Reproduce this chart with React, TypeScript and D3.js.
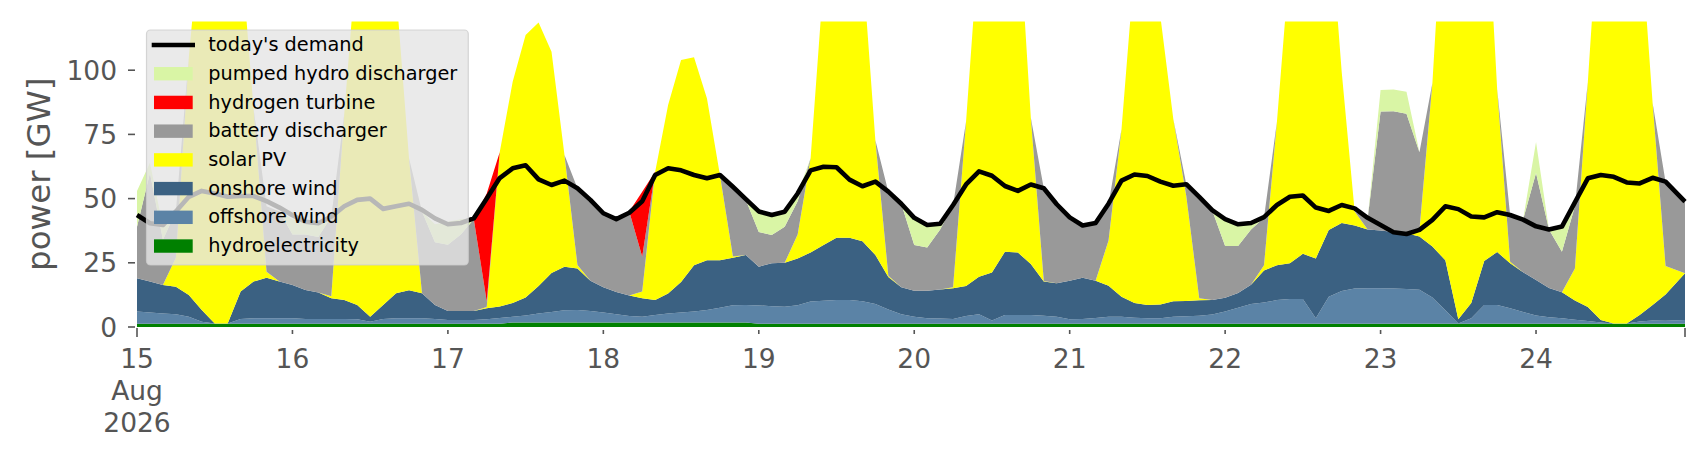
import { useEffect, useRef } from "react";
import * as d3 from "d3";

const WIDTH = 1706;
const HEIGHT = 460;
const X0 = 137;
const X1 = 1685;
const Y_BASE = 327;
const Y_TOP = 21.4;
const Y_MAX = 119;
const FONT = "DejaVu Sans, sans-serif";

// 2-hourly snapshots from 15 Aug 2026 00:00 to 24 Aug 23:00 (GW)
const HOURS = [...d3.range(0, 237, 2), 239];

const hydro = [
  1.3, 1.3, 1.3, 1.3, 1.3, 1.3, 1.3, 1.3, 1.3, 1.3, 1.3, 1.3,
  1.3, 1.3, 1.3, 1.3, 1.3, 1.3, 1.3, 1.3, 1.3, 1.3, 1.3, 1.3,
  1.3, 1.3, 1.3, 1.3, 1.3, 1.8, 1.8, 1.8, 1.8, 1.8, 1.8, 1.8,
  1.8, 1.8, 1.8, 1.8, 1.8, 1.8, 1.8, 1.8, 1.8, 1.8, 1.8, 1.8,
  1.3, 1.3, 1.3, 1.3, 1.3, 1.3, 1.3, 1.3, 1.3, 1.3, 1.3, 1.3,
  1.3, 1.3, 1.3, 1.3, 1.3, 1.3, 1.3, 1.3, 1.3, 1.3, 1.3, 1.3,
  1.3, 1.3, 1.3, 1.3, 1.3, 1.3, 1.3, 1.3, 1.3, 1.3, 1.3, 1.3,
  1.3, 1.3, 1.3, 1.3, 1.3, 1.3, 1.3, 1.3, 1.3, 1.3, 1.3, 1.3,
  1.3, 1.3, 1.3, 1.3, 1.3, 1.3, 1.3, 1.3, 1.3, 1.3, 1.3, 1.3,
  1.3, 1.3, 1.3, 1.3, 1.3, 1.3, 1.3, 1.3, 1.3, 1.3, 1.3, 1.3,
];

const offshore = [
  4.7, 4.3, 4.0, 3.7, 2.7, 0.7, 0.1, 0.1, 1.8, 2.1, 2.1, 2.1,
  2.1, 1.8, 1.8, 1.8, 1.8, 1.7, 0.7, 1.8, 2.1, 2.1, 2.1, 1.8,
  1.4, 1.4, 1.4, 1.7, 2.2, 2.2, 2.7, 3.5, 4.0, 4.7, 4.8, 4.4,
  3.8, 3.2, 2.5, 2.2, 2.9, 3.5, 3.8, 4.2, 4.8, 5.7, 6.7, 6.8,
  7.1, 6.8, 6.6, 7.2, 8.6, 8.9, 9.2, 9.2, 8.7, 7.7, 5.5, 3.7,
  2.7, 2.1, 2.0, 1.8, 3.0, 3.7, 1.2, 3.4, 3.4, 3.4, 3.1, 2.7,
  1.7, 1.8, 2.2, 2.7, 2.7, 2.3, 2.1, 2.1, 2.7, 2.9, 3.1, 3.6,
  4.7, 6.2, 7.7, 8.2, 9.2, 9.6, 9.6, 2.1, 10.5, 12.7, 13.7, 13.8,
  13.8, 13.7, 13.5, 13.2, 10.2, 5.2, 0.1, 2.1, 7.3, 7.3, 6.0, 4.5,
  3.2, 2.5, 2.1, 1.5, 1.0, 0.5, 0.1, 0.1, 0.8, 1.2, 1.1, 1.4,
];

const onshore = [
  13, 12.1, 11.1, 10.7, 8.5, 4.6, 0, 0, 10.7, 14.3, 15.8, 14.3,
  13, 11.3, 10.3, 8.1, 7.4, 5.6, 2, 5.5, 9.7, 10.9, 9.7, 5.5,
  3.5, 3.5, 3.5, 4.3, 4.5, 5.3, 7, 10.7, 15.2, 17, 16.2, 11.8,
  9.9, 8.6, 8, 7.2, 5.8, 7.7, 11.9, 18, 19.4, 18.5, 18.5, 19.4,
  15.1, 16.7, 17.1, 18.2, 19.1, 21.7, 24.3, 24.3, 23.4, 19, 12.7, 10.5,
  10.1, 10.7, 11.3, 12, 11.7, 14.6, 18.7, 24.6, 24.3, 19.8, 13.3, 13,
  15, 16.1, 14.5, 12.1, 7.8, 5.7, 5.2, 5.4, 6, 5.9, 6, 5.6,
  5.4, 5.7, 7.5, 12.5, 13.5, 13.9, 17.6, 23.3, 26, 26.5, 24.5, 22.9,
  22.5, 22, 21.7, 20.7, 19.8, 19.5, 1.6, 5.9, 17.1, 20.6, 17.5, 15.5,
  13.8, 11.4, 10.1, 7.5, 5.5, 0.9, 0, 0, 2.6, 6.1, 10.3, 18.2,
];

const solar = [
  0, 0, 0, 11.3, 92.5, 153.4, 173.6, 168.6, 134.2, 67.3, 2.3, 0,
  0, 0, 0, 0.8, 72.5, 138.4, 156, 146.4, 117.9, 51.4, 0, 0,
  0, 0, 0, 0.5, 60, 86.2, 102.2, 102.6, 86.2, 43.5, 1.3, 0,
  0, 0, 0, 2.6, 50, 73.4, 86.5, 81, 63, 33.2, 0.5, 0,
  0, 0, 0, 9.3, 36.7, 103.1, 115.2, 115.2, 108.6, 44.7, 0.5, 0,
  0, 0, 0, 0.4, 64, 131, 143.8, 135.7, 134, 57, 0.2, 0,
  0, 0, 0, 17.6, 65.2, 130.7, 141.4, 112.2, 71, 40.9, 0.8, 0,
  0, 0, 0, 2, 56, 118.2, 131.5, 138.3, 127.2, 58.8, 5.5, 0,
  0, 0, 0, 2.6, 63.7, 154, 187, 180.7, 159.3, 63.5, 0.6, 0,
  0, 0, 0, 12.5, 87.7, 169.3, 178.6, 178.6, 153.3, 78.6, 11.1, 0,
];

const battery = [
  20, 42.3, 17.6, 18, 0, 0, 0, 0, 0, 0, 25.5, 27.3,
  19.6, 21.6, 21.6, 31, 0, 0, 0, 0, 0, 0, 31.9, 24.4,
  25.8, 29.8, 35.8, 2.1, 0, 0, 0, 0, 0, 0, 29.9, 31.5,
  29, 28.4, 32.7, 13.6, 0, 0, 0, 0, 0, 0, 27, 21.5,
  13.5, 11, 14, 13, 0, 0, 0, 0, 0, 0, 32.7, 32.5,
  17.8, 16.9, 23.4, 32, 0, 0, 0, 0, 0, 0, 36.1, 30,
  24.7, 20.3, 22.5, 14.3, 0, 0, 0, 0, 0, 4.6, 39.5, 35,
  20.1, 18.3, 21.5, 18.5, 0, 0, 0, 0, 0, 0, 0, 4,
  46.3, 47, 46.5, 30.2, 0, 0, 0, 0, 0, 0, 18.2, 20.5,
  41.7, 22.8, 15.8, 24.2, 0, 0, 0, 0, 0, 0, 32.7, 27.9,
];

const hydrogen = [
  0, 0, 0, 0, 0, 0, 0, 0, 0, 0, 0, 0,
  0, 0, 0, 0, 0, 0, 0, 0, 0, 0, 0, 0,
  0, 0, 0, 42.1, 0, 0, 0, 0, 0, 0, 0, 0,
  0, 0, 0, 25.3, 0, 0, 0, 0, 0, 0, 0, 0,
  0, 0, 0, 0, 0, 0, 0, 0, 0, 0, 0, 0,
  0, 0, 0, 0, 0, 0, 0, 0, 0, 0, 0, 0,
  0, 0, 0, 0, 0, 0, 0, 0, 0, 0, 0, 0,
  0, 0, 0, 0, 0, 0, 0, 0, 0, 0, 0, 0,
  0, 0, 0, 0, 0, 0, 0, 0, 0, 0, 0, 0,
  0, 0, 0, 0, 0, 0, 0, 0, 0, 0, 0, 0,
];

const pumped = [
  14, 4, 5, 0, 0, 0, 0, 0, 0, 0, 0, 0,
  6, 5, 5.4, 0, 0, 0, 0, 0, 0, 0, 0, 7,
  9, 6, 0, 0, 0, 0, 0, 0, 0, 0, 0, 0,
  0, 0, 0, 0, 0, 0, 0, 0, 0, 0, 0, 0,
  7.5, 7.8, 5.9, 3, 0, 0, 0, 0, 0, 0, 0, 0,
  10.4, 8.7, 2.4, 0, 0, 0, 0, 0, 0, 0, 0, 0,
  0, 0, 0, 0, 0, 0, 0, 0, 0, 0, 0, 0,
  10, 8.5, 2, 0, 0, 0, 0, 0, 0, 0, 0, 0,
  8.4, 8.5, 8.6, 0, 0, 0, 0, 0, 0, 0, 0, 0,
  12, 0, 9.8, 0, 0, 0, 0, 0, 0, 0, 0, 0,
];

const demand = [
  43.6, 40.4, 39.7, 45, 50.7, 53, 52, 50.7, 51, 51, 49, 46.5,
  43.5, 41, 40.4, 43, 47, 49.5, 50, 46, 47, 48, 45.6, 42.3,
  40, 40.5, 42.3, 50, 58, 61.8, 63, 57.5, 55.3, 57, 54, 49.5,
  44.3, 42, 44.5, 49, 59.2, 61.8, 61, 59.2, 57.9, 59.2, 54.6, 49.8,
  45, 43.6, 44.9, 52, 61, 62.4, 62.2, 57.4, 54.8, 56.6, 52.7, 48,
  42.5, 39.7, 40.2, 47.5, 55.5, 60.6, 58.9, 54.9, 53, 55.5, 54, 47.8,
  42.7, 39.5, 40.5, 48, 57, 59.4, 58.8, 56.6, 55, 55.6, 50.7, 45.5,
  42, 40, 40.5, 42.8, 47.5, 50.7, 51.2, 46.5, 45.2, 47.5, 46.2, 42.5,
  39.7, 36.9, 36.2, 37.8, 41.7, 47, 45.9, 43, 42.7, 44.7, 43.6, 41.8,
  39.2, 38, 39.1, 48.5, 57.9, 59.2, 58.5, 56.3, 55.9, 58.1, 56.6, 48.8,
];

const Y_TICKS = [0, 25, 50, 75, 100];

// bottom to top of the stack
const KEYS = ["hydro", "offshore", "onshore", "solar", "battery", "hydrogen", "pumped"];
const SERIES: Record<string, number[]> = { hydro, offshore, onshore, solar, battery, hydrogen, pumped };
const COLORS: Record<string, string> = {
  hydro: "#008000",
  offshore: "#5b83a6",
  onshore: "#3b6182",
  solar: "#ffff00",
  battery: "#999999",
  hydrogen: "#ff0000",
  pumped: "#d9f5a5",
};
const LABELS: Record<string, string> = {
  hydro: "hydroelectricity",
  offshore: "offshore wind",
  onshore: "onshore wind",
  solar: "solar PV",
  battery: "battery discharger",
  hydrogen: "hydrogen turbine",
  pumped: "pumped hydro discharger",
};

type Row = { t: Date; [k: string]: number | Date };

export default function App() {
  const ref = useRef<SVGSVGElement>(null);

  useEffect(() => {
    const svg = d3.select(ref.current!);
    svg.selectAll("*").remove();

    const times = HOURS.map((h) => new Date(2026, 7, 15, h));
    const x = d3
      .scaleTime()
      .domain([times[0], times[times.length - 1]])
      .range([X0, X1]);
    const y = d3.scaleLinear().domain([0, Y_MAX]).range([Y_BASE, Y_TOP]);

    const rows: Row[] = times.map((t, i) => {
      const r: Row = { t };
      KEYS.forEach((k) => (r[k] = SERIES[k][i]));
      return r;
    });

    const stacked = d3.stack<Row>().keys(KEYS)(rows);

    svg
      .append("defs")
      .append("clipPath")
      .attr("id", "plotClip")
      .append("rect")
      .attr("x", X0)
      .attr("y", Y_TOP)
      .attr("width", X1 - X0)
      .attr("height", Y_BASE - Y_TOP);

    const area = d3
      .area<d3.SeriesPoint<Row>>()
      .x((d) => x(d.data.t as Date))
      .y0((d) => y(d[0]))
      .y1((d) => y(d[1]));

    svg
      .append("g")
      .attr("clip-path", "url(#plotClip)")
      .selectAll("path")
      .data(stacked)
      .join("path")
      .attr("fill", (s) => COLORS[s.key])
      .attr("d", (s) => area(s));

    const line = d3
      .line<number>()
      .x((_, i) => x(times[i]))
      .y((d) => y(d))
      .curve(d3.curveLinear);

    svg
      .append("path")
      .datum(demand)
      .attr("fill", "none")
      .attr("stroke", "#000")
      .attr("stroke-width", 4.6)
      .attr("stroke-linejoin", "round")
      .attr("d", line);

    // y axis
    const tickColor = "#555555";
    const yAxis = svg.append("g").attr("font-family", FONT);
    Y_TICKS.forEach((v) => {
      yAxis
        .append("line")
        .attr("x1", 128)
        .attr("x2", 135)
        .attr("y1", y(v))
        .attr("y2", y(v))
        .attr("stroke", tickColor)
        .attr("stroke-width", 1.6);
      yAxis
        .append("text")
        .attr("x", 117)
        .attr("y", y(v))
        .attr("dy", "0.36em")
        .attr("text-anchor", "end")
        .attr("font-size", 26.5)
        .attr("fill", tickColor)
        .text(v);
    });
    svg
      .append("text")
      .attr("transform", `translate(38,${(Y_TOP + Y_BASE) / 2}) rotate(-90)`)
      .attr("text-anchor", "middle")
      .attr("dy", "0.36em")
      .attr("font-family", FONT)
      .attr("font-size", 32.5)
      .attr("fill", tickColor)
      .text("power [GW]");

    // x axis
    const xAxis = svg.append("g").attr("font-family", FONT);
    const days = d3.timeDay.range(times[0], d3.timeDay.offset(times[0], 10));
    const fmt = d3.timeFormat("%-d");
    days.forEach((d, i) => {
      const px = x(d);
      xAxis
        .append("line")
        .attr("x1", px)
        .attr("x2", px)
        .attr("y1", i === 0 ? 328 : 330)
        .attr("y2", i === 0 ? 337 : 334)
        .attr("stroke", tickColor)
        .attr("stroke-width", 1.6);
      const lines = i === 0 ? [fmt(d), d3.timeFormat("%b")(d), d3.timeFormat("%Y")(d)] : [fmt(d)];
      lines.forEach((txt, j) => {
        xAxis
          .append("text")
          .attr("x", px)
          .attr("y", 368 + j * 32)
          .attr("text-anchor", "middle")
          .attr("font-size", 26.5)
          .attr("fill", tickColor)
          .text(txt);
      });
    });
    xAxis
      .append("line")
      .attr("x1", X1)
      .attr("x2", X1)
      .attr("y1", 328)
      .attr("y2", 337)
      .attr("stroke", tickColor)
      .attr("stroke-width", 1.6);

    // legend
    const lg = svg.append("g").attr("font-family", FONT);
    lg.append("rect")
      .attr("x", 146.5)
      .attr("y", 30)
      .attr("width", 321.8)
      .attr("height", 235)
      .attr("rx", 4)
      .attr("fill", "#e5e5e5")
      .attr("fill-opacity", 0.8)
      .attr("stroke", "#cccccc")
      .attr("stroke-opacity", 0.8)
      .attr("stroke-width", 1.2);

    const entries = ["demand", ...KEYS.slice().reverse()];
    entries.forEach((k, i) => {
      const cy = 45 + i * 28.72;
      if (k === "demand") {
        lg.append("line")
          .attr("x1", 154)
          .attr("x2", 192.7)
          .attr("y1", cy)
          .attr("y2", cy)
          .attr("stroke", "#000")
          .attr("stroke-width", 4.6)
          .attr("stroke-linecap", "square");
      } else {
        lg.append("rect")
          .attr("x", 154)
          .attr("y", cy - 6.7)
          .attr("width", 38.7)
          .attr("height", 13.4)
          .attr("fill", COLORS[k]);
      }
      lg.append("text")
        .attr("x", 208.3)
        .attr("y", cy)
        .attr("dy", "0.32em")
        .attr("font-size", 19.3)
        .attr("fill", "#000")
        .text(k === "demand" ? "today's demand" : LABELS[k]);
    });
  }, []);

  return (
    <svg
      ref={ref}
      width={WIDTH}
      height={HEIGHT}
      style={{ position: "absolute", left: 0, top: 0, background: "#fff" }}
    />
  );
}
